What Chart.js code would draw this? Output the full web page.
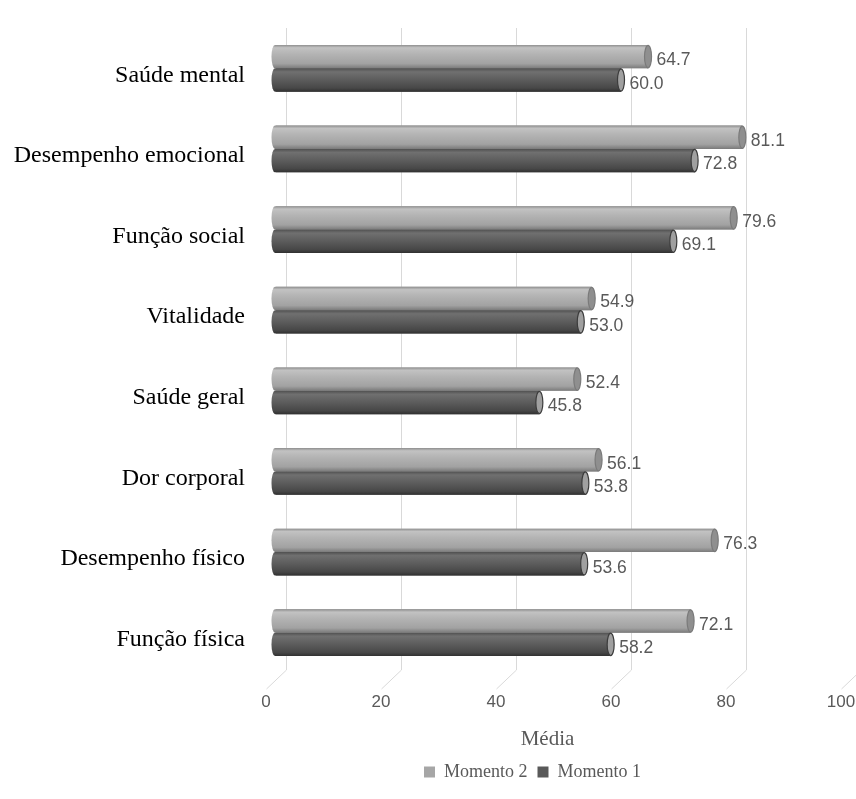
<!DOCTYPE html>
<html>
<head>
<meta charset="utf-8">
<script src="https://cdn.jsdelivr.net/npm/chart.js@4.4.0/dist/chart.umd.min.js"></script>
<style>
  html, body { margin: 0; padding: 0; background: #fff; }
  #wrap { width: 856px; height: 799px; }
</style>
</head>
<body>
<div id="wrap"><canvas id="chart" width="856" height="799"></canvas></div>
<script>
// Data
const categories = [
  'Saúde mental', 'Desempenho emocional', 'Função social', 'Vitalidade',
  'Saúde geral', 'Dor corporal', 'Desempenho físico', 'Função física'
];
const momento2 = [64.7, 81.1, 79.6, 54.9, 52.4, 56.1, 76.3, 72.1];
const momento1 = [60.0, 72.8, 69.1, 53.0, 45.8, 53.8, 53.6, 58.2];
const xTicks = [0, 20, 40, 60, 80, 100];
const xTitle = 'Média';

const GRID = '#d9d9d9';
const TEXT_GRAY = '#595959';
const SERIF = '"Liberation Serif", "Times New Roman", serif';
const SANS = '"Liberation Sans", Arial, sans-serif';

// gradient stops for the cylinder look, per dataset
const bodyStops = [
  [[0, '#8e8e8e'], [0.12, '#c2c2c2'], [0.4, '#b3b3b3'], [0.8, '#a2a2a2'], [1, '#7a7a7a']],
  [[0, '#505050'], [0.15, '#707070'], [0.5, '#5c5c5c'], [0.85, '#474747'], [1, '#303030']]
];
const capFill = ['#8f8f8f', '#a0a0a0'];
const capStroke = ['#7a7a7a', '#3c3c3c'];

// 3D-ish grid: vertical on the back wall, slanting down to the front
const gridPlugin = {
  id: 'grid3d',
  afterLayout(chart) {
    // legend in the original is centred under the plot, not the whole canvas
    if (chart.legend) chart.legend.left = 214;
  },
  beforeDatasetsDraw(chart) {
    const { ctx, chartArea } = chart;
    const x = chart.scales.x;
    ctx.save();
    ctx.strokeStyle = GRID;
    ctx.lineWidth = 1;
    xTicks.forEach((v) => {
      const px = Math.round(x.getPixelForValue(v)) + 0.5;
      ctx.beginPath();
      ctx.moveTo(px + 10, chartArea.top);
      ctx.lineTo(px + 10, chartArea.bottom - 3);
      ctx.lineTo(px - 10, chartArea.bottom + 16);
      ctx.stroke();
    });
    ctx.restore();
  },
  afterDraw(chart) {
    // axis title sits on the front plane, a bit left of the axis centre
    const { ctx } = chart;
    const x = chart.scales.x;
    ctx.save();
    ctx.fillStyle = TEXT_GRAY;
    ctx.font = '21px ' + SERIF;
    ctx.textAlign = 'center';
    ctx.textBaseline = 'middle';
    ctx.fillText(xTitle, x.getPixelForValue(50) - 16, 739);
    ctx.restore();
  }
};

// cylinders + value labels drawn over the library's bar elements
const cylinderPlugin = {
  id: 'cylinders',
  afterDatasetsDraw(chart) {
    const { ctx } = chart;
    chart.data.datasets.forEach((ds, di) => {
      const meta = chart.getDatasetMeta(di);
      meta.data.forEach((bar, i) => {
        const { x, y, base, height } = bar.getProps(['x', 'y', 'base', 'height'], true);
        const top = y - height / 2;
        const rx = 3.5;
        const g = ctx.createLinearGradient(0, top, 0, top + height);
        bodyStops[di].forEach(([o, c]) => g.addColorStop(o, c));
        ctx.save();
        // body with rounded back end
        ctx.beginPath();
        ctx.moveTo(x, top);
        ctx.lineTo(base - 1, top);
        ctx.ellipse(base - 1, y, rx, height / 2, 0, -Math.PI / 2, Math.PI / 2, true);
        ctx.lineTo(x, top + height);
        ctx.closePath();
        ctx.fillStyle = g;
        ctx.fill();
        // front cap
        ctx.beginPath();
        ctx.ellipse(x, y, rx, height / 2 - 0.5, 0, 0, Math.PI * 2);
        ctx.fillStyle = capFill[di];
        ctx.fill();
        ctx.lineWidth = 1.2;
        ctx.strokeStyle = capStroke[di];
        ctx.stroke();
        // value label
        ctx.fillStyle = TEXT_GRAY;
        ctx.font = '17.5px ' + SANS;
        ctx.textAlign = 'left';
        ctx.textBaseline = 'middle';
        ctx.fillText(ds.data[i].toFixed(1), x + rx + 5, y + 4);
        ctx.restore();
      });
    });
  }
};

const ctx = document.getElementById('chart').getContext('2d');
new Chart(ctx, {
  type: 'bar',
  data: {
    labels: categories,
    datasets: [
      { label: 'Momento 2', data: momento2, backgroundColor: '#a6a6a6' },
      { label: 'Momento 1', data: momento1, backgroundColor: '#595959' }
    ]
  },
  options: {
    indexAxis: 'y',
    responsive: false,
    animation: false,
    datasets: {
      bar: { categoryPercentage: 0.58, barPercentage: 1.0 }
    },
    layout: { padding: { top: 28, right: 5, bottom: 8, left: 0 } },
    scales: {
      x: {
        min: 0,
        max: 100,
        afterBuildTicks(scale) { scale.ticks = xTicks.map((v) => ({ value: v })); },
        afterFit(scale) {
          scale.height = 80;
          scale.paddingLeft = 0;
          scale.paddingRight = 0;
        },
        grid: { display: false, drawTicks: false },
        border: { display: false },
        ticks: {
          padding: 19,
          labelOffset: -10,
          color: TEXT_GRAY,
          font: { family: SANS, size: 17 }
        }
      },
      y: {
        afterFit(scale) {
          scale.width = 276;
          scale.paddingTop = 0;
          scale.paddingBottom = 0;
        },
        grid: { display: false, drawTicks: false },
        border: { display: false },
        ticks: {
          padding: 31,
          labelOffset: 7,
          color: '#000',
          font: { family: SERIF, size: 24 }
        }
      }
    },
    plugins: {
      legend: {
        position: 'bottom',
        labels: {
          boxWidth: 11,
          boxHeight: 11,
          padding: 10,
          color: TEXT_GRAY,
          font: { family: SERIF, size: 18 }
        }
      },
      tooltip: { enabled: false }
    }
  },
  plugins: [gridPlugin, cylinderPlugin]
});
</script>
</body>
</html>
